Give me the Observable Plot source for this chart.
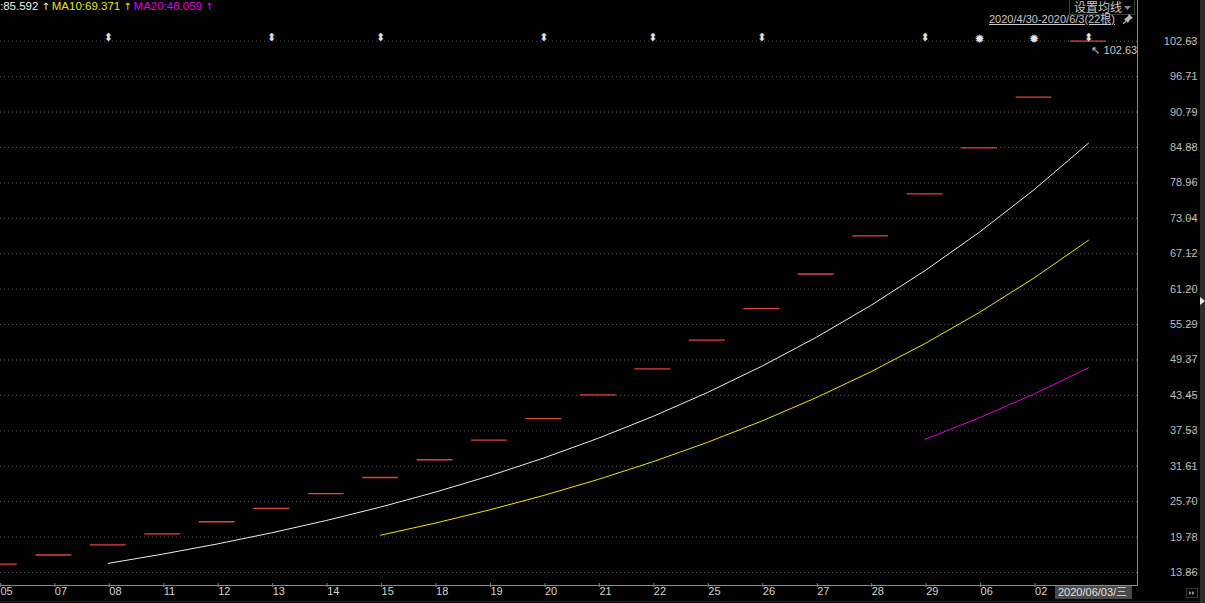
<!DOCTYPE html>
<html><head><meta charset="utf-8">
<script src="https://cdn.jsdelivr.net/npm/d3@7"></script>
<script src="https://cdn.jsdelivr.net/npm/@observablehq/plot@0.6"></script>
<style>
html,body{margin:0;padding:0;background:#000;overflow:hidden;}
#wrap{position:relative;width:1205px;height:603px;background:#000;font-family:"Liberation Sans",Arial,"Noto Sans CJK SC",sans-serif;}
#wrap > svg{position:absolute;left:0;top:0;}
.abs{position:absolute;white-space:nowrap;}
#legend span{margin-right:3px;}
#legend .ar{margin-right:2px;font-family:"DejaVu Sans",sans-serif;font-size:10px;}
</style></head><body><div id="wrap"></div>
<script>
// ---- data ----
const dates = ["2020-04-29","2020-04-30","2020-05-06","2020-05-07","2020-05-08","2020-05-11","2020-05-12","2020-05-13","2020-05-14","2020-05-15","2020-05-18","2020-05-19","2020-05-20","2020-05-21","2020-05-22","2020-05-25","2020-05-26","2020-05-27","2020-05-28","2020-05-29","2020-06-01","2020-06-02","2020-06-03"];
const xLabels = ["04","30","05","07","08","11","12","13","14","15","18","19","20","21","22","25","26","27","28","29","06","02","2020/06/03/三"];
const closes = [12.60,13.86,15.25,16.78,18.46,20.31,22.34,24.57,27.03,29.73,32.70,35.97,39.57,43.53,47.88,52.67,57.94,63.73,70.10,77.11,84.82,93.30,102.63];
const ma5  = [null,null,null,null,15.390,16.932,18.628,20.492,22.542,24.796,27.274,30.000,33.000,36.300,39.930,43.924,48.318,53.150,58.464,64.310,70.740,77.812,85.592];
const ma10 = [null,null,null,null,null,null,null,null,null,20.093,22.103,24.314,26.746,29.421,32.363,35.599,39.159,43.075,47.382,52.120,57.332,63.065,69.371];
const ma20 = [null,null,null,null,null,null,null,null,null,null,null,null,null,null,null,null,null,null,null,36.107,39.718,43.690,48.059];
const yTicks = [13.86,19.78,25.70,31.61,37.53,43.45,49.37,55.29,61.20,67.12,73.04,78.96,84.88,90.79,96.71,102.63];
const markerDates = ["2020-05-08","2020-05-13","2020-05-15","2020-05-20","2020-05-22","2020-05-26","2020-05-29","2020-06-01","2020-06-02","2020-06-03"];
const markerSyms  = ["⬍","⬍","⬍","⬍","⬍","⬍","⬍","✹","✹","⬍"];
const rangeLabel = "2020/4/30-2020/6/3(22根)";

// ---- build ----
const candles = closes.map((v, i) => ({i, v}));
const series = (arr) => arr.map((v, i) => ({i, v})).filter(d => d.v != null);
const markers = markerDates.map((d, k) => ({i: dates.indexOf(d), s: markerSyms[k]}));
const maxI = closes.indexOf(d3.max(closes));
const lastI = dates.length - 1;

const plot = Plot.plot({
  width: 1205, height: 603,
  marginLeft: 0, marginRight: 68, marginTop: 0, marginBottom: 18,
  style: {background: "#000", color: "#c0c0c0", fontFamily: "'Liberation Sans', Arial, sans-serif", fontSize: "11px"},
  x: {type: "linear", domain: [2.02, 22.9], label: null},
  y: {domain: [13.86, 102.63], range: [572, 40.7], label: null},
  marks: [
    Plot.ruleY(yTicks, {stroke: "#5a5a5a", strokeDasharray: "1,3"}),
    Plot.axisY(yTicks, {anchor: "right", label: null, tickSize: 9, tickPadding: 3, tickFormat: d => d.toFixed(2), textAnchor: "end", dx: 48, stroke: "#6a6a6a", fill: "#bcbcbc", fontSize: 11}),
    Plot.axisX(d3.range(2, lastI), {anchor: "bottom", label: null, tickSize: 4, tickPadding: 0, dy: -2, tickFormat: i => xLabels[i], textAnchor: "start", dx: 1, stroke: "#7a7a7a", fill: "#d4d4d4", fontSize: 11}),
    Plot.frame({anchor: "right", stroke: "#8a8a8a"}),
    Plot.frame({anchor: "bottom", stroke: "#8a8a8a"}),
    Plot.ruleY(candles, {y: "v", x1: d => d.i - 0.33, x2: d => d.i + 0.33, stroke: "#e0443e", strokeWidth: 1.3, clip: true}),
    Plot.line(series(ma5), {x: "i", y: "v", stroke: "#ececec", strokeWidth: 1, clip: true}),
    Plot.line(series(ma10), {x: "i", y: "v", stroke: "#e8e800", strokeWidth: 1, clip: true}),
    Plot.line(series(ma20), {x: "i", y: "v", stroke: "#e000e0", strokeWidth: 1, clip: true}),
    Plot.text(markers.filter(d => d.s !== "✹"), {x: "i", frameAnchor: "top", dy: 33, text: "s", fill: "#e0e0e0", fontSize: 11, fontFamily: "'DejaVu Sans', sans-serif"}),
    Plot.text(markers.filter(d => d.s === "✹"), {x: "i", frameAnchor: "top", dy: 34, text: "s", fill: "#e6e6e6", fontSize: 12, fontFamily: "'DejaVu Sans', sans-serif"}),
    Plot.text([maxI], {x: d => d, y: d => closes[d], text: d => "↖ " + closes[d].toFixed(2), textAnchor: "start", dx: 3, dy: 9, fill: "#c8c8c8", fontSize: 11})
  ]
});
const wrap = document.getElementById("wrap");
wrap.appendChild(plot);

// ---- overlays (legend / header / controls) ----
function add(html, css) {
  const d = document.createElement("div");
  d.className = "abs";
  d.innerHTML = html;
  Object.assign(d.style, css);
  wrap.appendChild(d);
  return d;
}
const legendItems = [
  {t: ":" + ma5[lastI].toFixed(3), c: "#f0f0f0"},
  {t: "MA10:" + ma10[lastI].toFixed(3), c: "#e8e800"},
  {t: "MA20:" + ma20[lastI].toFixed(3), c: "#e000e0"}
];
const lg = add(legendItems.map(d => `<span style="color:${d.c}">${d.t}</span><span class="ar" style="color:${d.c}">↑</span>`).join(""),
  {left: "0px", top: "0px", fontSize: "11.5px", lineHeight: "13px"});
lg.id = "legend";

add("设置均线", {left: "1069px", top: "0px", width: "66px", height: "15px", boxSizing: "border-box", borderLeft: "1px solid #3a3a3a", borderRight: "1px solid #3a3a3a", borderBottom: "1px solid #3a3a3a", color: "#c8c8c8", fontSize: "12px", lineHeight: "13px", paddingLeft: "4px", fontFamily: "'Noto Sans CJK SC', sans-serif"});
add('<svg width="7" height="4"><path d="M0 0 L7 0 L3.5 4 Z" fill="#8a8a8a"/></svg>', {left: "1124px", top: "5px", lineHeight: "0"});
add(rangeLabel, {left: "989px", top: "12px", color: "#c8c8c8", fontSize: "11px", lineHeight: "14px", textDecoration: "underline", fontFamily: "'Liberation Sans','Noto Sans CJK SC',sans-serif"});
add('<svg width="10" height="10" viewBox="0 0 10 10"><path d="M6 0 L10 4 L8 5 L6 7 L5 9 L1 5 L3 4 L5 2 Z" fill="#b8b8b8"/><path d="M3 7 L0 10" stroke="#b8b8b8" stroke-width="1.2"/></svg>', {left: "1123px", top: "14px", lineHeight: "0"});

// last date label box on x axis
const xs = plot.scale("x");
const lastX = xs.apply(lastI);
add(xLabels[lastI], {left: (lastX - 33) + "px", top: "586px", width: "77px", height: "13px", background: "#4a4a4a", color: "#e0e0e0", fontSize: "11px", lineHeight: "13px", paddingLeft: "3px", boxSizing: "border-box", fontFamily: "'Liberation Sans','Noto Sans CJK SC',sans-serif"});

// right strip, controls
add("", {left: "1200px", top: "0px", width: "5px", height: "603px", background: "#2e2e2e"});
add('<svg width="5" height="8"><path d="M0 0 L5 4 L0 8 Z" fill="#e8e8e8"/></svg>', {left: "1200px", top: "297px", lineHeight: "0"});
add('<svg width="12" height="10"><rect x="0.5" y="0.5" width="11" height="9" fill="none" stroke="#3a3a3a"/><path d="M3 3 L5.5 5 L3 7 Z M6 3 L8.5 5 L6 7 Z" fill="#9a9a9a"/></svg>', {left: "1186px", top: "588px", lineHeight: "0"});
add("", {left: "0px", top: "601px", width: "1200px", height: "1px", background: "#262626"});
</script>
</body></html>
